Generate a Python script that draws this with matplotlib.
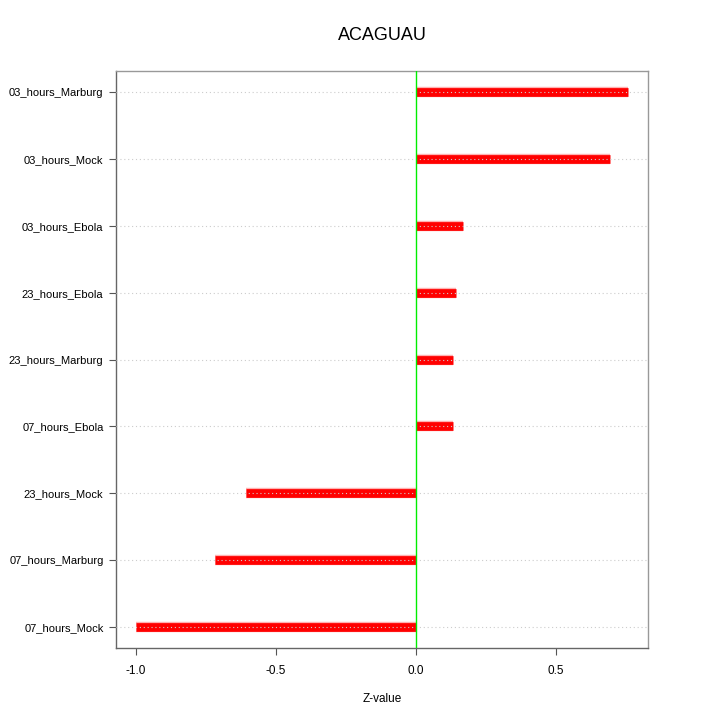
import matplotlib
matplotlib.use("Agg")
import matplotlib.pyplot as plt

plt.rcParams['font.family'] = ['Liberation Sans', 'DejaVu Sans']

categories = ["07_hours_Mock", "07_hours_Marburg", "23_hours_Mock", "07_hours_Ebola",
              "23_hours_Marburg", "23_hours_Ebola", "03_hours_Ebola", "03_hours_Mock",
              "03_hours_Marburg"]
values = [-1.0, -0.718, -0.607, 0.132, 0.132, 0.143, 0.168, 0.693, 0.757]
xticks = [-1.0, -0.5, 0.0, 0.5]
xticklabels = ["-1.0", "-0.5", "0.0", "0.5"]
title = "ACAGUAU"

fig = plt.figure(figsize=(7.2, 7.2), dpi=100)
ax = fig.add_axes([116/720, 72/720, (648-116)/720, (648-71)/720])

ypos = list(range(len(categories)))
for y, v in zip(ypos, values):
    ax.plot([0, v], [y, y], color="#ff0000", lw=6.3, solid_capstyle="butt", zorder=2)
    ax.plot([0, v], [y, y], color="#ff8080", lw=7.5, solid_capstyle="butt", zorder=1, alpha=0.6)
for y in ypos:
    ax.axhline(y, color="#cccccc", lw=0.8, ls=(0, (1, 2.5)), zorder=3)
ax.axvline(0, color="#00ee00", lw=1, zorder=4)

ax.set_xlim(-1.071, 0.829)
ax.set_ylim(-0.32, 8.32)
ax.set_yticks(ypos)
ax.set_yticklabels(categories, fontsize=8)
ax.set_xticks(xticks)
ax.set_xticklabels(xticklabels, fontsize=8.5)
ax.tick_params(axis='both', length=5, width=0.8, color="#555555", pad=4)
ax.tick_params(axis='x', pad=7)
for s in ["top", "right"]:
    ax.spines[s].set_color("#999999")
for s in ["left", "bottom"]:
    ax.spines[s].set_color("#666666")
for s in ax.spines.values():
    s.set_linewidth(1)

ax.set_xlabel("Z-value", fontsize=8.5, labelpad=12)
ax.set_title(title, fontsize=13, pad=22)

fig.savefig("out.png", dpi=100)
